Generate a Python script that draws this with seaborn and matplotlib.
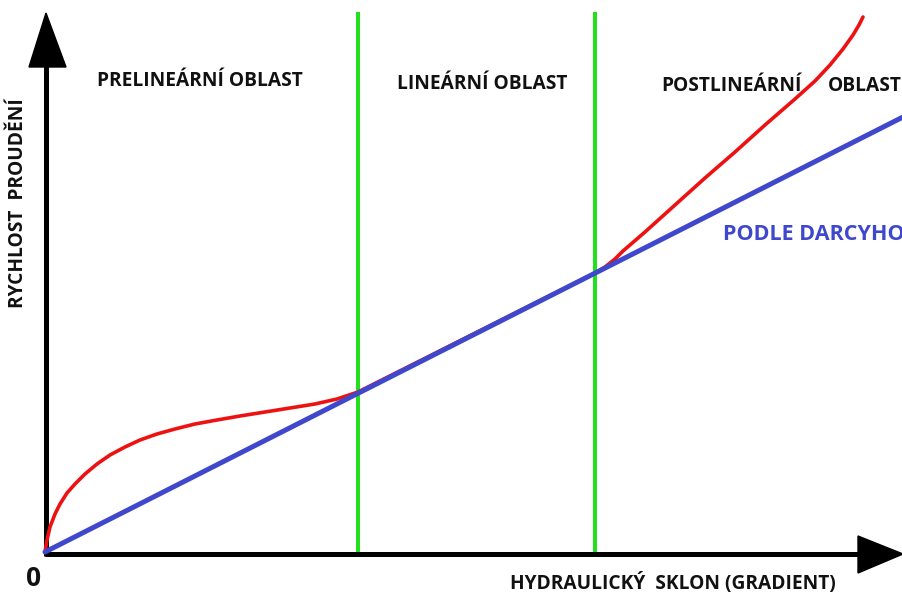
import matplotlib
matplotlib.use("Agg")
import matplotlib.pyplot as plt
import seaborn as sns
import pandas as pd
from matplotlib.patches import Polygon

sns.set_theme(style="white")
plt.rcParams['font.family'] = ['Open Sans', 'DejaVu Sans']

# ---- data (schematic units: gradient vs. flow velocity) ----
darcy_x = [0, 858]
darcy_y = [0, 435]

real_x = [0, 2, 5, 10, 15, 22, 30, 40, 52, 65, 80, 95, 112, 130, 150, 172, 195, 220,
          245, 270, 292, 313,
          550, 560, 570, 578, 600, 630, 660, 690, 720, 750, 770, 785, 798, 808, 814, 818]
real_y = [0, 12, 25, 38, 48, 59, 68, 78, 88, 97, 105, 112, 118, 123, 128, 132, 136, 140,
          144, 148, 153, 160,
          279, 285, 293, 301, 320, 347, 374, 400, 427, 453, 471, 487, 503, 517, 527, 535]

region_bounds = [313, 550]
region_labels = ["PRELINEÁRNÍ OBLAST", "LINEÁRNÍ OBLAST", "POSTLINEÁRNÍ", "OBLAST"]
darcy_label = "PODLE DARCYHO"
x_label = "HYDRAULICKÝ  SKLON (GRADIENT)"
y_label = "RYCHLOST  PROUDĚNÍ"
origin_label = "0"

BLUE = "#3f48cc"
RED = "#ee1111"
GREEN = "#22e01e"

fig = plt.figure(figsize=(9.03, 5.94), dpi=100)
ax = fig.add_axes([0, 0, 1, 1])

# region boundaries
for b in region_bounds:
    ax.plot([b, b], [-3, 540], color=GREEN, lw=2.9, solid_capstyle="butt", zorder=2)

# axes with arrows
ax.plot([0, 815], [-2, -2], color="black", lw=3.6, solid_capstyle="butt", zorder=3)
ax.plot([1, 1], [-4, 487], color="black", lw=3.6, solid_capstyle="butt", zorder=3)
ax.add_patch(Polygon([[858, -2], [813, 16], [813, -21]], closed=True,
                     facecolor="black", edgecolor="black", zorder=4))
ax.add_patch(Polygon([[1, 539], [-16, 485], [21, 485]], closed=True,
                     facecolor="black", edgecolor="black", zorder=4))

# curves
df_real = pd.DataFrame({"x": real_x, "y": real_y})
df_darcy = pd.DataFrame({"x": darcy_x, "y": darcy_y})
sns.lineplot(data=df_real, x="x", y="y", ax=ax, color=RED, lw=2.6, sort=False,
             estimator=None, zorder=5)
sns.lineplot(data=df_darcy, x="x", y="y", ax=ax, color=BLUE, lw=3.6, sort=False,
             estimator=None, zorder=6)
ax.set_xlim(-45, 858)
ax.set_ylim(-42, 552)
ax.axis("off")

tk = dict(fontsize=13.8, fontweight="bold", color="#111111", va="center")
ax.text(155, 471, region_labels[0], ha="center", **tk)
ax.text(437, 468, region_labels[1], ha="center", **tk)
ax.text(616, 466, region_labels[2], ha="left", **tk)
ax.text(783, 466, region_labels[3], ha="left", **tk)
ax.text(678, 317, darcy_label, ha="left", va="center", fontsize=15.5,
        fontweight="bold", color=BLUE)
ax.text(-11, -26, origin_label, ha="center", va="center", fontsize=19,
        fontweight="bold", color="#111111")
ax.text(465, -31, x_label, ha="left", **tk)
ax.text(-27, 349, y_label, ha="center", rotation=90, **tk)

fig.savefig("out.png", dpi=100)
